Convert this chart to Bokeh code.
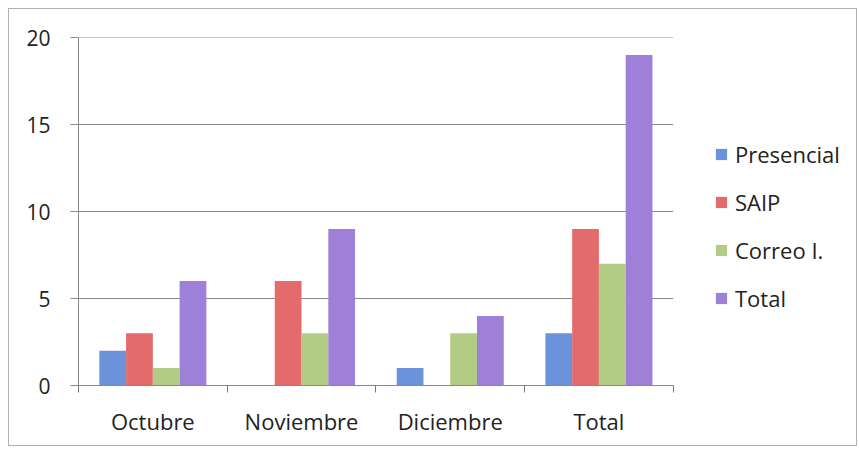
import numpy as np
from bokeh.plotting import figure
from bokeh.models import ColumnDataSource, Range1d, FixedTicker, Legend, LegendItem
from bokeh.transform import dodge
from bokeh.embed import file_html
from bokeh.resources import INLINE

categories = ["Octubre", "Noviembre", "Diciembre", "Total"]
series_names = ["Presencial", "SAIP", "Correo I.", "Total"]
presencial = [2, 0, 1, 3]
saip = [3, 6, 0, 9]
correo = [1, 3, 3, 7]
total = [6, 9, 4, 19]
y_ticks = [0, 5, 10, 15, 20]

colors = ["#6B93DB", "#E36B6B", "#B3CC85", "#9E80D8"]
FONT = "Open Sans"

n = len(categories)
centers = list(np.arange(n) + 0.5)
source = ColumnDataSource(dict(x=centers, presencial=presencial, saip=saip,
                               correo=correo, total=total))

# plot frame extends to the right edge so the legend can sit inside it;
# the category area covers 594 of the 779 px frame
x_end = n * 779 / 594

p = figure(width=849, height=438, output_backend="svg", toolbar_location=None,
           x_range=Range1d(0, x_end), y_range=Range1d(0, 20),
           min_border_left=69, min_border_right=0, min_border_top=28,
           min_border_bottom=62)
p.styles = {"border": "1px solid #b0b0b0", "margin-left": "8px", "margin-top": "8px"}
p.outline_line_color = None
p.background_fill_color = "white"

# horizontal gridlines limited to the category area
p.segment(x0=0, x1=n, y0=y_ticks, y1=y_ticks, line_color="#8a8a8a", line_width=1)

bw = 0.18
offsets = [-0.27, -0.09, 0.09, 0.27]
fields = ["presencial", "saip", "correo", "total"]
renderers = []
for f, off, c in zip(fields, offsets, colors):
    r = p.vbar(x=dodge("x", off), top=f, width=bw, source=source,
               fill_color=c, line_color=None)
    renderers.append(r)

# x axis
p.xaxis.ticker = FixedTicker(ticks=centers, minor_ticks=list(range(n + 1)))
p.xaxis.bounds = (0, n)
p.xaxis.major_label_overrides = {float(c): nm for c, nm in zip(centers, categories)}
p.xaxis.major_tick_line_color = None
p.xaxis.major_tick_out = 0
p.xaxis.major_tick_in = 0
p.xaxis.minor_tick_line_color = "#777777"
p.xaxis.minor_tick_out = 7
p.xaxis.minor_tick_in = 0
p.xaxis.axis_line_color = "#888888"
p.xaxis.major_label_standoff = 13
p.xaxis.major_label_text_font = FONT
p.xaxis.major_label_text_font_size = "22px"
p.xaxis.major_label_text_color = "#222222"

# y axis
p.yaxis.ticker = FixedTicker(ticks=y_ticks)
p.yaxis.minor_tick_line_color = None
p.yaxis.major_tick_line_color = "#888888"
p.yaxis.major_tick_out = 8
p.yaxis.major_tick_in = 0
p.yaxis.axis_line_color = "#888888"
p.yaxis.major_label_standoff = 20
p.yaxis.major_label_text_font = FONT
p.yaxis.major_label_text_font_size = "21px"
p.yaxis.major_label_text_color = "#222222"

p.xgrid.grid_line_color = None
p.ygrid.grid_line_color = None

legend = Legend(items=[LegendItem(label=nm, renderers=[r]) for nm, r in zip(series_names, renderers)],
                location=(636, 72), orientation="vertical")
legend.padding = 0
legend.margin = 0
legend.border_line_color = None
legend.background_fill_alpha = 0
legend.glyph_width = 14
legend.glyph_height = 14
legend.label_height = 20
legend.spacing = 18
legend.label_standoff = 7
legend.label_text_font = FONT
legend.label_text_font_size = "22px"
legend.label_text_color = "#222222"
p.add_layout(legend, "center")

open("out.html", "w").write(file_html(p, INLINE))
